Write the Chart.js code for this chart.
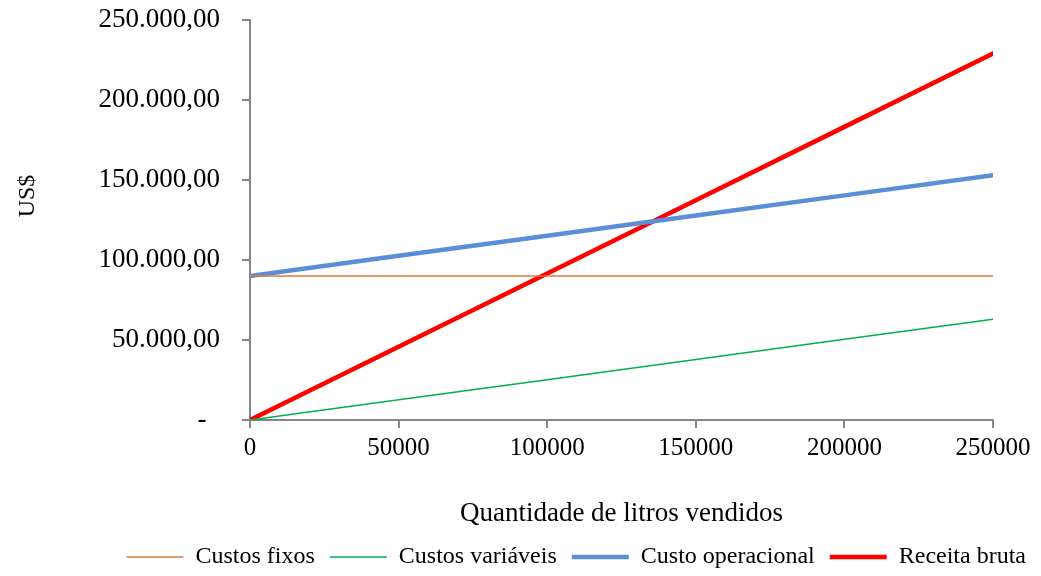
<!DOCTYPE html>
<html>
<head>
<meta charset="utf-8">
<script src="https://cdn.jsdelivr.net/npm/chart.js@4.4.1/dist/chart.umd.min.js"></script>
<style>
  html, body { margin: 0; padding: 0; background: #fff; }
  #wrap { width: 1041px; height: 576px; }
</style>
</head>
<body>
<div id="wrap"><canvas id="c" width="1041" height="576"></canvas></div>
<script>
// Litros vendidos (eixo X)
const litros = [0, 50000, 100000, 150000, 200000, 250000];
// Séries em US$
const custosFixos = [90000, 90000, 90000, 90000, 90000, 90000];
const custosVariaveis = [0, 12600, 25200, 37800, 50400, 63000];
const custoOperacional = [90000, 102600, 115200, 127800, 140400, 153000];
const receitaBruta = [0, 45800, 91600, 137400, 183200, 229000];
// Marcas dos eixos
const yTicks = [0, 50000, 100000, 150000, 200000, 250000];
const xTicks = [0, 50000, 100000, 150000, 200000, 250000];

// Formato contábil: milhar com ponto, decimais com vírgula, zero como traço
function fmtBR(v) {
  if (v === 0) return '-  ';
  const int = Math.round(v).toString().replace(/\B(?=(\d{3})+(?!\d))/g, '.');
  return int + ',00';
}

function pts(ys) { return litros.map((x, i) => ({ x: x, y: ys[i] })); }

const axisGray = '#868686';
const serif = '"Liberation Serif", "Times New Roman", serif';

new Chart(document.getElementById('c'), {
  type: 'line',
  data: {
    datasets: [
      { label: 'Custos fixos', data: pts(custosFixos), borderColor: '#DD7A3A', backgroundColor: '#DD7A3A', borderWidth: 1.5 },
      { label: 'Custos variáveis', data: pts(custosVariaveis), borderColor: '#00B050', backgroundColor: '#00B050', borderWidth: 1.5 },
      { label: 'Custo operacional', data: pts(custoOperacional), borderColor: '#5B8ED8', backgroundColor: '#5B8ED8', borderWidth: 4.5 },
      { label: 'Receita bruta', data: pts(receitaBruta), borderColor: '#FF0000', backgroundColor: '#FF0000', borderWidth: 4.5 }
    ]
  },
  options: {
    responsive: false,
    animation: false,
    elements: { point: { radius: 0, hoverRadius: 0 }, line: { tension: 0, borderCapStyle: 'round' } },
    layout: { padding: { top: 20, right: 0, left: 0, bottom: -3 } },
    plugins: {
      tooltip: { enabled: false },
      legend: {
        position: 'bottom',
        align: 'end',
        labels: {
          usePointStyle: true,
          pointStyle: 'line',
          pointStyleWidth: 57,
          boxHeight: 24,
          color: '#000',
          padding: 15,
          font: { family: serif, size: 24 }
        }
      }
    },
    scales: {
      x: {
        type: 'linear',
        min: 0, max: 250000,
        afterBuildTicks: (s) => { s.ticks = xTicks.map(v => ({ value: v })); },
        ticks: { color: '#000', font: { family: serif, size: 25 }, padding: 5, maxRotation: 0, callback: (v) => String(v) },
        grid: { drawOnChartArea: false, drawTicks: true, tickLength: 8, color: axisGray, lineWidth: 2 },
        border: { color: axisGray, width: 2 },
        title: { display: true, text: 'Quantidade de litros vendidos', color: '#000', font: { family: serif, size: 27 }, padding: { top: 30, bottom: 0 } },
        afterFit: (s) => { s.height = 110; s.paddingLeft = 0; s.paddingRight = 0; }
      },
      y: {
        type: 'linear',
        min: 0, max: 250000,
        afterBuildTicks: (s) => { s.ticks = yTicks.map(v => ({ value: v })); },
        ticks: { color: '#000', font: { family: serif, size: 27 }, padding: 22, callback: (v) => fmtBR(v) },
        grid: { drawOnChartArea: false, drawTicks: true, tickLength: 8, color: axisGray, lineWidth: 2 },
        border: { color: axisGray, width: 2 },
        title: { display: true, text: '        US$', color: '#000', font: { family: serif, size: 24 }, padding: { top: 13, bottom: 0 } },
        afterFit: (s) => { s.width = 250; s.paddingTop = 0; s.paddingBottom = 0; }
      },
      // margem direita da área de plotagem
      margemDireita: {
        type: 'linear',
        position: 'right',
        display: true,
        ticks: { display: false },
        grid: { display: false },
        border: { display: false },
        afterFit: (s) => { s.width = 48; s.paddingTop = 0; s.paddingBottom = 0; }
      }
    }
  }
});
</script>
</body>
</html>
